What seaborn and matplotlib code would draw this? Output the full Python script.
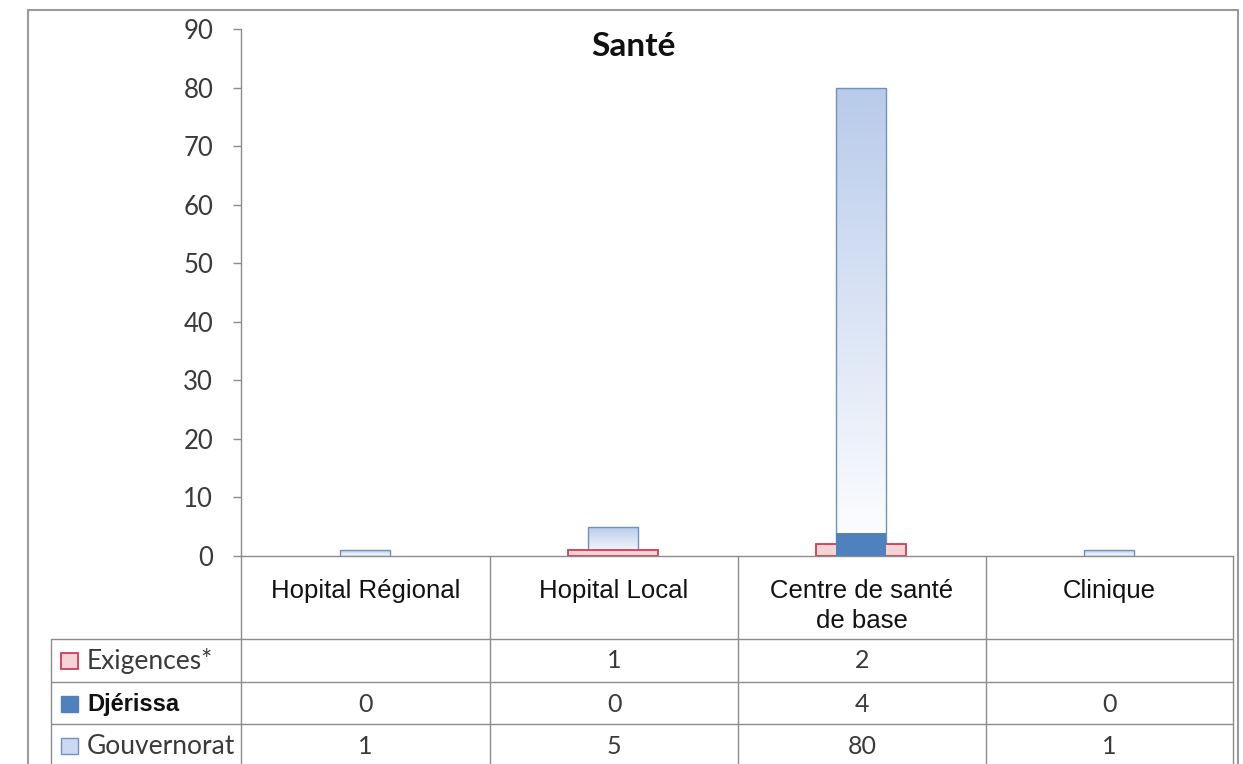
import numpy as np
import pandas as pd
import matplotlib
matplotlib.use("Agg")
import matplotlib.pyplot as plt
from matplotlib.lines import Line2D
from matplotlib.patches import Rectangle
from matplotlib.colors import LinearSegmentedColormap
import seaborn as sns

# ---- data -------------------------------------------------------------
categories = ["Hopital Régional", "Hopital Local", "Centre de santé\nde base", "Clinique"]
exigences = [np.nan, 1, 2, np.nan]
djerissa = [0, 0, 4, 0]
gouvernorat = [1, 5, 80, 1]
series_names = ["Exigences*", "Djérissa", "Gouvernorat"]
y_ticks = list(range(0, 100, 10))

# ---- styling ----------------------------------------------------------
W, H = 1243, 764
sns.set_theme(style="white")
plt.rcParams["font.family"] = ["Lato", "DejaVu Sans"]

GRID = "#8c8c8c"
BLUE = "#4f81bd"
PINK_FILL = "#f6d3d5"
PINK_EDGE = "#d23a55"
LIGHT_BLUE_TOP = "#b8cbeb"
GOUV_EDGE = "#7390bb"
TEXT = "#3a3a3a"

fig = plt.figure(figsize=(W / 100, H / 100), dpi=100)


def fx(px):
    return px / W


def fy(py):
    return 1 - py / H


ax = fig.add_axes([fx(241), fy(556), fx(1233) - fx(241), fy(29) - fy(556)])

df = pd.DataFrame({"cat": categories,
                   "Exigences*": exigences,
                   "Djérissa": djerissa,
                   "Gouvernorat": gouvernorat})

# Gouvernorat: back layer, gradient-filled
n0 = len(ax.patches)
sns.barplot(data=df, x="cat", y="Gouvernorat", order=categories, width=0.205,
            color=LIGHT_BLUE_TOP, saturation=1, edgecolor=GOUV_EDGE,
            linewidth=1.0, ax=ax, zorder=1)
gouv_patches = ax.patches[n0:]

# Exigences: wider pink bars
sns.barplot(data=df, x="cat", y="Exigences*", order=categories, width=0.36,
            color=PINK_FILL, saturation=1, edgecolor=PINK_EDGE,
            linewidth=1.3, ax=ax, zorder=2)

# Djérissa: solid blue front layer
sns.barplot(data=df, x="cat", y="Djérissa", order=categories, width=0.205,
            color=BLUE, saturation=1, linewidth=0, ax=ax, zorder=3)

# vertical gradient (light blue at the top fading to white at the base)
cmap = LinearSegmentedColormap.from_list("gouv", ["#ffffff", LIGHT_BLUE_TOP])
grad = np.linspace(0, 1, 256).reshape(-1, 1)
for p in gouv_patches:
    x0, y0 = p.get_x(), p.get_y()
    w, h = p.get_width(), p.get_height()
    if h <= 0:
        continue
    im = ax.imshow(grad, extent=[x0, x0 + w, y0, y0 + h], origin="lower",
                   cmap=cmap, aspect="auto", zorder=0.9, interpolation="bilinear")
    im.set_clip_path(p)
    p.set_facecolor("none")

ax.set_xlim(-0.5, 3.5)
ax.set_ylim(0, 90)
ax.set_yticks(y_ticks)
ax.set_xticks([])
ax.set_xlabel("")
ax.set_ylabel("")
for s in ["top", "right"]:
    ax.spines[s].set_visible(False)
for s in ["left", "bottom"]:
    ax.spines[s].set_color(GRID)
    ax.spines[s].set_linewidth(1.0)
ax.tick_params(axis="y", left=True, length=6, width=1, color=GRID, pad=14,
               labelsize=18.5, labelcolor=TEXT)

fig.text(fx(633), fy(47), "Santé", ha="center", va="center",
         fontsize=24, fontweight="bold", color="#111111")


# ---- data table under the plot ---------------------------------------
def hline(y, x0, x1, color=GRID, lw=1.0):
    fig.add_artist(Line2D([fx(x0), fx(x1)], [fy(y), fy(y)], color=color, lw=lw))


def vline(x, y0, y1, color=GRID, lw=1.0):
    fig.add_artist(Line2D([fx(x), fx(x)], [fy(y0), fy(y1)], color=color, lw=lw))


col_edges = [241, 490, 738, 986, 1233]
row_edges = [639, 682, 724]
for x in col_edges:
    vline(x, 556, 764)
for y in row_edges:
    hline(y, 51, 1233)
vline(51, 639, 764)

# outer chart frame
BORDER = "#9a9a9a"
vline(28, 10, 764, BORDER, 1.5)
hline(10, 28, 1238, BORDER, 1.5)
vline(1238, 10, 764, BORDER, 1.5)

col_centers = [(a + b) / 2 for a, b in zip(col_edges[:-1], col_edges[1:])]
for cx, label in zip(col_centers, categories):
    fig.text(fx(cx), fy(579), label, ha="center", va="top", fontsize=18.5,
             family=["Liberation Sans", "DejaVu Sans"], color="#111111",
             linespacing=1.32)

row_centers = [661, 704, 746]
series_values = [exigences, djerissa, gouvernorat]
key_style = [
    dict(facecolor=PINK_FILL, edgecolor=PINK_EDGE, lw=1.3),
    dict(facecolor=BLUE, edgecolor=BLUE, lw=1.0),
    dict(facecolor="#cbdaf2", edgecolor=GOUV_EDGE, lw=1.0),
]
for cy, name, vals, ks in zip(row_centers, series_names, series_values, key_style):
    fig.add_artist(Rectangle((fx(61), fy(cy + 8)), fx(17), fy(cy - 8) - fy(cy + 8),
                             transform=fig.transFigure, **ks))
    if name == "Djérissa":
        fig.text(fx(87), fy(cy), name, ha="left", va="center", fontsize=17,
                 fontweight="bold", family=["Liberation Sans", "DejaVu Sans"],
                 color="#111111")
    else:
        fig.text(fx(87), fy(cy), name, ha="left", va="center", fontsize=19,
                 color=TEXT)
    for cx, v in zip(col_centers, vals):
        if np.isnan(v):
            continue
        fig.text(fx(cx), fy(cy), f"{int(v)}", ha="center", va="center",
                 fontsize=18, color=TEXT)

fig.savefig("out.png", dpi=100, facecolor="white")
